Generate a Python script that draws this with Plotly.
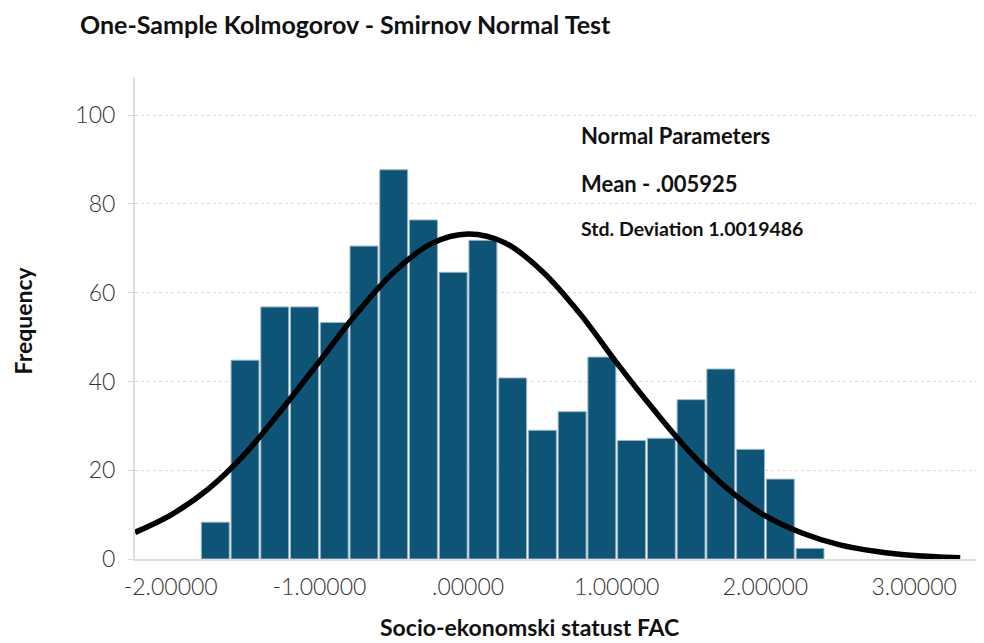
import plotly.graph_objects as go

# histogram bins (centres) and frequencies
bin_centers = [-1.7, -1.5, -1.3, -1.1, -0.9, -0.7, -0.5, -0.3, -0.1, 0.1, 0.3,
               0.5, 0.7, 0.9, 1.1, 1.3, 1.5, 1.7, 1.9, 2.1, 2.3]
frequencies = [8.3, 44.8, 56.8, 56.8, 53.3, 70.5, 87.7, 76.4, 64.6, 71.8, 40.8,
               29.0, 33.2, 45.5, 26.7, 27.2, 35.9, 42.8, 24.7, 18.0, 2.4]

# normal curve
curve_x = [-2.24, -2.0, -1.75, -1.5, -1.25, -1.0, -0.75, -0.5, -0.25, 0.0, 0.25,
           0.5, 0.75, 1.0, 1.25, 1.5, 1.75, 2.0, 2.25, 2.5, 2.75, 3.0, 3.31]
curve_y = [6.0, 9.9, 15.7, 23.7, 33.8, 44.5, 55.3, 64.6, 71.0, 73.2, 71.2,
           64.8, 55.4, 44.2, 33.6, 23.8, 15.7, 9.7, 5.8, 3.2, 1.7, 0.8, 0.3]

x_tickvals = [-2, -1, 0, 1, 2, 3]
x_ticktext = ["-2.00000", "-1.00000", ".00000", "1.00000", "2.00000", "3.00000"]
y_tickvals = [0, 20, 40, 60, 80, 100]

title = "One-Sample Kolmogorov - Smirnov Normal Test"
params = ["Normal Parameters", "Mean - .005925", "Std. Deviation 1.0019486"]

FONT = "Lato"
GRID = "#d9d9d9"
W, H = 976, 635  # page has an 8px body margin

fig = go.Figure()
fig.add_trace(go.Bar(x=bin_centers, y=frequencies, width=0.188,
                     marker=dict(color="#0d5477", line=dict(color="#9cb8c7", width=1)),
                     hoverinfo="x+y"))
fig.add_trace(go.Scatter(x=curve_x, y=curve_y, mode="lines", line_shape="spline",
                         line=dict(color="black", width=5.5), hoverinfo="skip"))

fig.update_layout(
    width=W, height=H,
    margin=dict(l=127, r=0, t=69, b=84),
    plot_bgcolor="white", paper_bgcolor="white",
    showlegend=False,
    font=dict(family=FONT, color="#222222"),
    title=dict(text=title, x=72 / W, xanchor="left", xref="container",
               y=1 - 17 / H, yanchor="middle",
               font=dict(family=FONT, size=25, weight="bold", color="#111111")),
)
fig.update_xaxes(range=[-2.24, 3.47], tickvals=x_tickvals, ticktext=x_ticktext,
                 showgrid=False, zeroline=False, showline=True, linecolor="#dddddd",
                 linewidth=2, ticks="", ticklabelstandoff=6,
                 tickfont=dict(family=FONT, size=23, weight=300, color="#333333"))
fig.update_yaxes(range=[0, 108.6], tickvals=y_tickvals, showgrid=True,
                 gridcolor=GRID, griddash="dot", gridwidth=1, zeroline=False,
                 showline=True, linecolor="#dddddd", linewidth=2,
                 ticks="outside", ticklen=5, tickcolor=GRID, ticklabelstandoff=8,
                 tickfont=dict(family=FONT, size=23, weight=300, color="#333333"))

# normal parameter notes
fig.add_annotation(x=0.747, y=95.5, xref="x", yref="y", text=params[0], showarrow=False,
                   xanchor="left", font=dict(family=FONT, size=22, weight="bold", color="#111111"))
fig.add_annotation(x=0.747, y=84.7, xref="x", yref="y", text=params[1], showarrow=False,
                   xanchor="left", font=dict(family=FONT, size=22, weight="bold", color="#111111"))
fig.add_annotation(x=0.747, y=74.5, xref="x", yref="y", text=params[2], showarrow=False,
                   xanchor="left", font=dict(family=FONT, size=19.5, weight="bold", color="#111111"))

# axis titles
fig.add_annotation(x=-0.1319, y=0.495, xref="paper", yref="paper", text="Frequency",
                   textangle=-90, showarrow=False, xanchor="center", yanchor="middle",
                   font=dict(family=FONT, size=23, weight="bold", color="#111111"))
fig.add_annotation(x=0.465, y=-0.141, xref="paper", yref="paper",
                   text="Socio-ekonomski statust FAC", showarrow=False,
                   xanchor="center", yanchor="middle",
                   font=dict(family=FONT, size=23, weight="bold", color="#111111"))

fig.write_html("out.html")
